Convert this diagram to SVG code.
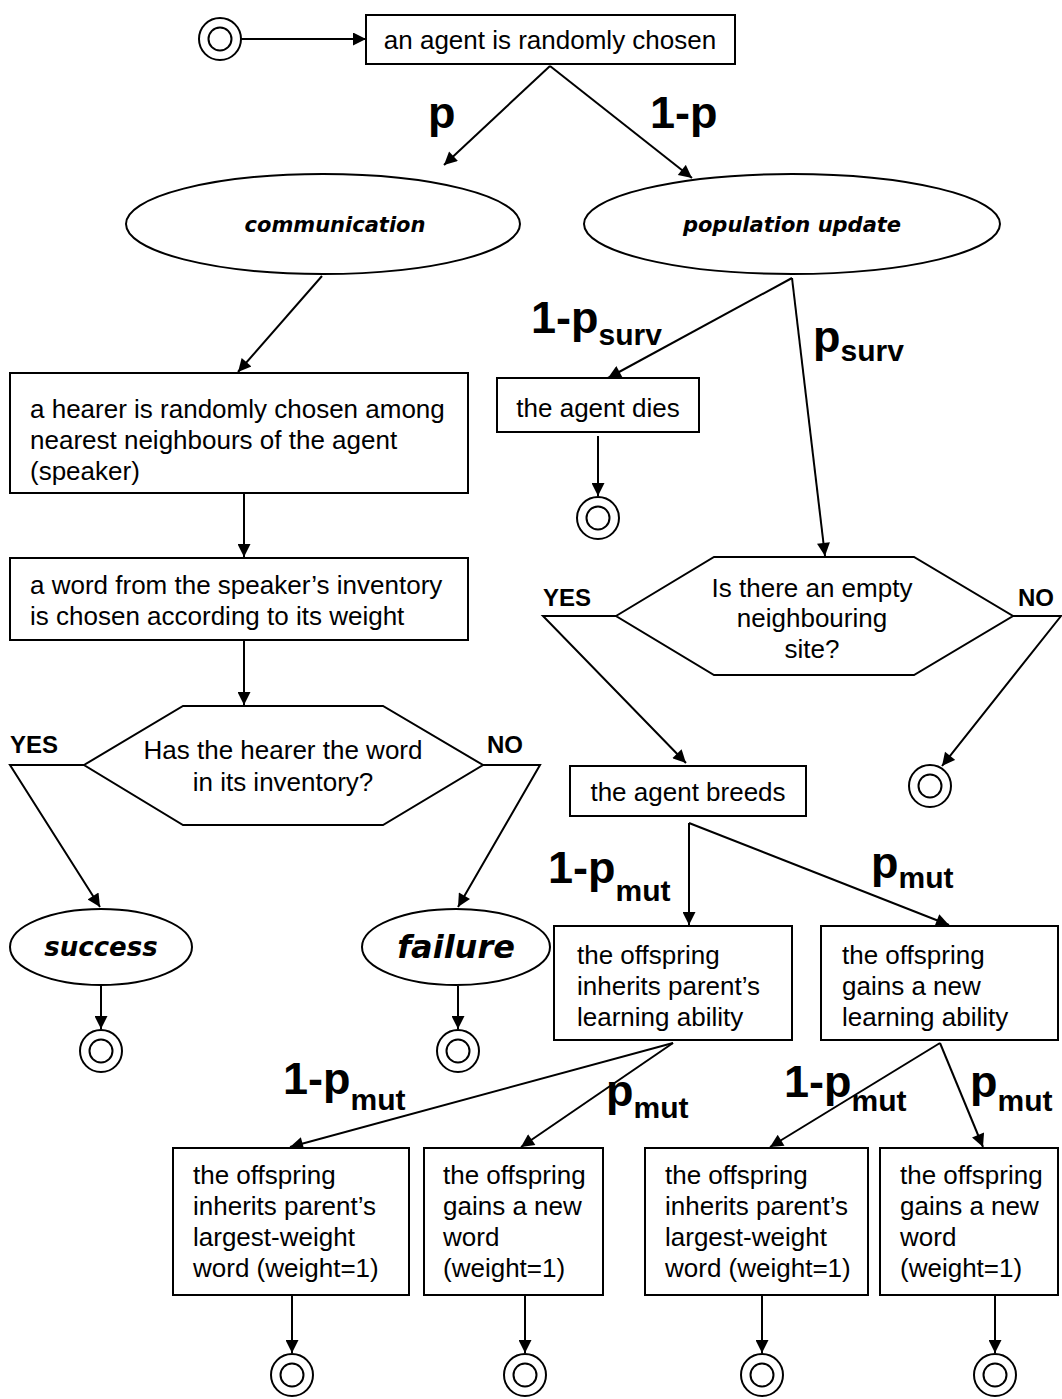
<svg xmlns="http://www.w3.org/2000/svg" width="1062" height="1399" viewBox="0 0 1062 1399">
<defs>
<marker id="ah" viewBox="0 0 10 10" refX="10" refY="5" markerWidth="15" markerHeight="13" markerUnits="userSpaceOnUse" orient="auto"><path d="M0,0 L10,5 L0,10 z" fill="#000"/></marker>
<g id="term"><circle r="21" fill="none" stroke="#000" stroke-width="2"/><circle r="11.5" fill="none" stroke="#000" stroke-width="2"/></g>
</defs>
<style>
.b{fill:#fff;stroke:#000;stroke-width:2}
.t{font-family:"Liberation Sans",Arial,sans-serif;font-size:26px;fill:#000}
.c{text-anchor:middle}
.e{font-family:"DejaVu Sans",sans-serif;font-weight:bold;font-style:italic;fill:#000;text-anchor:middle}
.l{font-family:"Liberation Sans",Arial,sans-serif;font-weight:bold;font-size:45px;fill:#000}
.s{font-size:30px}
.yn{font-family:"Liberation Sans",Arial,sans-serif;font-weight:bold;font-size:24px;fill:#000}
.k{fill:none;stroke:#000;stroke-width:2}
.a{marker-end:url(#ah)}
</style>
<rect width="1062" height="1399" fill="#fff"/>

<g id="connectors">
<line class="k a" x1="241" y1="39" x2="366" y2="39"/>
<line class="k a" x1="550" y1="66" x2="444" y2="165"/>
<line class="k a" x1="550" y1="66" x2="692" y2="178"/>
<line class="k a" x1="322" y1="276" x2="238" y2="372"/>
<line class="k a" x1="244" y1="493" x2="244" y2="557"/>
<line class="k a" x1="244" y1="640" x2="244" y2="705"/>
<polyline class="k a" points="84,765 10,765 100,907"/>
<polyline class="k a" points="483,765 540,765 458,907"/>
<line class="k a" x1="101" y1="986" x2="101" y2="1029"/>
<line class="k a" x1="458" y1="986" x2="458" y2="1029"/>
<line class="k a" x1="792" y1="278" x2="608" y2="378"/>
<line class="k a" x1="792" y1="278" x2="825" y2="556"/>
<line class="k a" x1="598" y1="436" x2="598" y2="496"/>
<polyline class="k a" points="616,616 543,616 686,763"/>
<polyline class="k a" points="1013,616 1061,616 942,766"/>
<line class="k a" x1="689" y1="823" x2="689" y2="925"/>
<line class="k a" x1="689" y1="823" x2="949" y2="925"/>
<line class="k a" x1="673" y1="1043" x2="290" y2="1147"/>
<line class="k a" x1="673" y1="1043" x2="521" y2="1147"/>
<line class="k a" x1="940" y1="1043" x2="770" y2="1147"/>
<line class="k a" x1="940" y1="1043" x2="983" y2="1147"/>
<line class="k a" x1="292" y1="1295" x2="292" y2="1353"/>
<line class="k a" x1="525" y1="1295" x2="525" y2="1353"/>
<line class="k a" x1="762" y1="1295" x2="762" y2="1353"/>
<line class="k a" x1="995" y1="1295" x2="995" y2="1353"/>
</g>

<g id="labels">
<text class="l" x="428" y="128">p</text>
<text class="l" x="650" y="128">1-p</text>
<text class="l" x="531" y="333">1-p<tspan class="s" dy="12">surv</tspan></text>
<text class="l" x="813" y="352">p<tspan class="s" dy="9">surv</tspan></text>
<text class="yn" x="10" y="753">YES</text>
<text class="yn" x="487" y="753">NO</text>
<text class="yn" x="543" y="606">YES</text>
<text class="yn" x="1018" y="606">NO</text>
<text class="l" x="548" y="883">1-p<tspan class="s" dy="18">mut</tspan></text>
<text class="l" x="871" y="878">p<tspan class="s" dy="10">mut</tspan></text>
<text class="l" x="283" y="1094">1-p<tspan class="s" dy="16">mut</tspan></text>
<text class="l" x="606" y="1106">p<tspan class="s" dy="12">mut</tspan></text>
<text class="l" x="784" y="1097">1-p<tspan class="s" dy="14">mut</tspan></text>
<text class="l" x="970" y="1097">p<tspan class="s" dy="14">mut</tspan></text>
</g>

<g id="start"><use href="#term" x="220" y="39"/></g>
<g id="chosen"><rect class="b" x="366" y="15" width="369" height="49"/><text class="t c" x="550" y="49">an agent is randomly chosen</text></g>
<g id="communication"><ellipse class="b" cx="323" cy="224" rx="197" ry="50"/><text class="e" x="335" y="232" font-size="21">communication</text></g>
<g id="population"><ellipse class="b" cx="792" cy="224" rx="208" ry="50"/><text class="e" x="792" y="232" font-size="21">population update</text></g>
<g id="hearer"><rect class="b" x="10" y="373" width="458" height="120"/><text class="t" x="30" y="418">a hearer is randomly chosen among</text><text class="t" x="30" y="449">nearest neighbours of the agent</text><text class="t" x="30" y="480">(speaker)</text></g>
<g id="word"><rect class="b" x="10" y="558" width="458" height="82"/><text class="t" x="30" y="594">a word from the speaker’s inventory</text><text class="t" x="30" y="625">is chosen according to its weight</text></g>
<g id="q1"><polygon class="b" points="84,765 183,706 383,706 483,765 383,825 183,825"/><text class="t c" x="283" y="759">Has the hearer the word</text><text class="t c" x="283" y="791">in its inventory?</text></g>
<g id="success"><ellipse class="b" cx="101" cy="947" rx="91" ry="38"/><text class="e" x="101" y="956" font-size="26">success</text></g>
<g id="failure"><ellipse class="b" cx="456" cy="947" rx="94" ry="38"/><text class="e" x="456" y="958" font-size="32">failure</text></g>
<g id="end1"><use href="#term" x="101" y="1051"/></g>
<g id="end2"><use href="#term" x="458" y="1051"/></g>
<g id="dies"><rect class="b" x="497" y="378" width="202" height="54"/><text class="t c" x="598" y="417">the agent dies</text></g>
<g id="end3"><use href="#term" x="598" y="518"/></g>
<g id="q2"><polygon class="b" points="616,616 714,557 914,557 1013,616 914,675 714,675"/><text class="t c" x="812" y="597">Is there an empty</text><text class="t c" x="812" y="627">neighbouring</text><text class="t c" x="812" y="658">site?</text></g>
<g id="end4"><use href="#term" x="930" y="786"/></g>
<g id="breeds"><rect class="b" x="570" y="766" width="236" height="50"/><text class="t c" x="688" y="801">the agent breeds</text></g>
<g id="inherit-ability"><rect class="b" x="554" y="926" width="238" height="114"/><text class="t" x="577" y="964">the offspring</text><text class="t" x="577" y="995">inherits parent’s</text><text class="t" x="577" y="1026">learning ability</text></g>
<g id="new-ability"><rect class="b" x="821" y="926" width="237" height="114"/><text class="t" x="842" y="964">the offspring</text><text class="t" x="842" y="995">gains a new</text><text class="t" x="842" y="1026">learning ability</text></g>
<g id="inherit-word-1"><rect class="b" x="173" y="1148" width="236" height="147"/><text class="t" x="193" y="1184">the offspring</text><text class="t" x="193" y="1215">inherits parent’s</text><text class="t" x="193" y="1246">largest-weight</text><text class="t" x="193" y="1277">word (weight=1)</text></g>
<g id="new-word-1"><rect class="b" x="424" y="1148" width="179" height="147"/><text class="t" x="443" y="1184">the offspring</text><text class="t" x="443" y="1215">gains a new</text><text class="t" x="443" y="1246">word</text><text class="t" x="443" y="1277">(weight=1)</text></g>
<g id="inherit-word-2"><rect class="b" x="645" y="1148" width="223" height="147"/><text class="t" x="665" y="1184">the offspring</text><text class="t" x="665" y="1215">inherits parent’s</text><text class="t" x="665" y="1246">largest-weight</text><text class="t" x="665" y="1277">word (weight=1)</text></g>
<g id="new-word-2"><rect class="b" x="880" y="1148" width="178" height="147"/><text class="t" x="900" y="1184">the offspring</text><text class="t" x="900" y="1215">gains a new</text><text class="t" x="900" y="1246">word</text><text class="t" x="900" y="1277">(weight=1)</text></g>
<g id="end5"><use href="#term" x="292" y="1375"/></g>
<g id="end6"><use href="#term" x="525" y="1375"/></g>
<g id="end7"><use href="#term" x="762" y="1375"/></g>
<g id="end8"><use href="#term" x="995" y="1375"/></g>
</svg>
